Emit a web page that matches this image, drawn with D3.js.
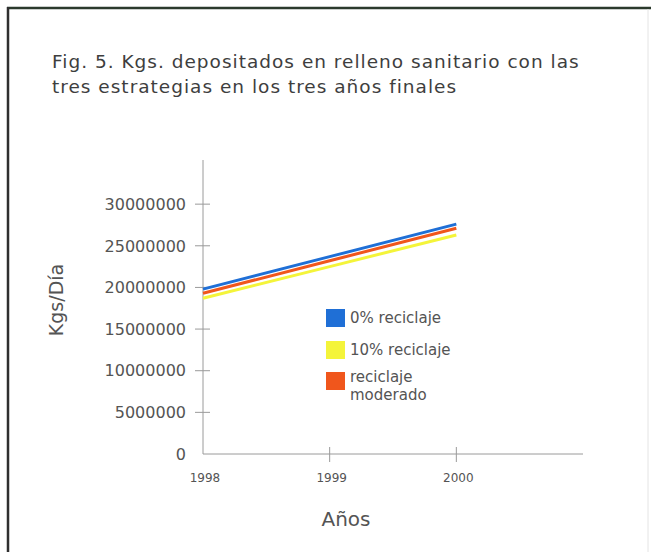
<!DOCTYPE html>
<html>
<head>
<meta charset="utf-8">
<script src="https://cdn.jsdelivr.net/npm/d3@7"></script>
<style>
  html, body { margin: 0; padding: 0; background: #fff; }
  svg { display: block; }
  text { font-family: "DejaVu Sans", "Noto Sans", sans-serif; fill: #545454; }
</style>
</head>
<body>
<svg id="chart" width="651" height="552"></svg>
<script>
// Years on the horizontal axis
const years = [1998, 1999, 2000];
const yearTicks = [1998, 1999, 2000];

// Kgs per day deposited for each strategy
const serie0 = [19800000, 23700000, 27600000];        // 0% reciclaje
const serie10 = [18700000, 22500000, 26300000];       // 10% reciclaje
const serieModerado = [19300000, 23200000, 27100000]; // reciclaje moderado

const yTicks = [0, 5000000, 10000000, 15000000, 20000000, 25000000, 30000000];

const seriesNames = ["0% reciclaje", "10% reciclaje", "reciclaje moderado"];
const seriesColors = ["#1f6fd6", "#f4f43a", "#f0561c"];

const svg = d3.select("#chart");

// Frame around the figure
svg.append("line").attr("x1", 7).attr("x2", 651).attr("y1", 8).attr("y2", 8)
  .attr("stroke", "#2b3a2c").attr("stroke-width", 2.5);
svg.append("line").attr("x1", 8).attr("x2", 8).attr("y1", 7).attr("y2", 552)
  .attr("stroke", "#2f2f2f").attr("stroke-width", 2.5);
svg.append("line").attr("x1", 648).attr("x2", 648).attr("y1", 9).attr("y2", 552)
  .attr("stroke", "#e4e4e4").attr("stroke-width", 1);

// Title
const title = svg.append("text")
  .style("font-size", "18.5px").style("letter-spacing", "1px").style("fill", "#3e3e3e");
title.append("tspan").attr("x", 52).attr("y", 68)
  .text("Fig. 5. Kgs. depositados en relleno sanitario con las");
title.append("tspan").attr("x", 52).attr("y", 93)
  .text("tres estrategias en los tres años finales");

// Scales
const x = d3.scaleLinear().domain([1998, 2001]).range([203, 583]);
const y = d3.scaleLinear().domain([0, 35300000]).range([454, 160]);

// Axis lines
svg.append("line").attr("x1", x(1998)).attr("x2", x(2001))
  .attr("y1", y(0)).attr("y2", y(0)).attr("stroke", "#9a9a9a").attr("stroke-width", 1);
svg.append("line").attr("x1", x(1998)).attr("x2", x(1998))
  .attr("y1", y(0)).attr("y2", 160).attr("stroke", "#9a9a9a").attr("stroke-width", 1);

// Y ticks and labels
const yg = svg.append("g");
yg.selectAll("line").data(yTicks.filter(d => d > 0)).join("line")
  .attr("x1", 195).attr("x2", 210)
  .attr("y1", d => y(d)).attr("y2", d => y(d))
  .attr("stroke", "#9a9a9a");
yg.selectAll("text").data(yTicks).join("text")
  .attr("x", 186).attr("y", d => y(d)).attr("dy", "0.36em")
  .attr("text-anchor", "end")
  .style("font-size", "16px")
  .text(d => d3.format("d")(d));

// X ticks and labels
const xg = svg.append("g");
xg.selectAll("line").data(yearTicks.filter(d => d > 1998)).join("line")
  .attr("x1", d => x(d)).attr("x2", d => x(d))
  .attr("y1", y(0) - 7).attr("y2", y(0) + 8)
  .attr("stroke", "#9a9a9a");
xg.selectAll("text").data(yearTicks).join("text")
  .attr("x", d => x(d) + 2).attr("y", 482)
  .attr("text-anchor", "middle")
  .style("font-size", "12px")
  .text(d => d);

// Axis titles
svg.append("text").attr("transform", "translate(63,300) rotate(-90)")
  .attr("text-anchor", "middle").style("font-size", "19px").text("Kgs/Día");
svg.append("text").attr("x", 346).attr("y", 526)
  .attr("text-anchor", "middle").style("font-size", "20px").text("Años");

// Lines (blue drawn last so it sits on top)
const line = d3.line().x((d, i) => x(years[i])).y(d => y(d));
const drawOrder = [
  { data: serie10, color: seriesColors[1] },
  { data: serieModerado, color: seriesColors[2] },
  { data: serie0, color: seriesColors[0] }
];
svg.append("g").selectAll("path").data(drawOrder).join("path")
  .attr("d", d => line(d.data))
  .attr("fill", "none")
  .attr("stroke", d => d.color)
  .attr("stroke-width", 3)
  .attr("stroke-linecap", "butt");

// Legend
const legend = [
  { label: ["0% reciclaje"], color: seriesColors[0], y: 309 },
  { label: ["10% reciclaje"], color: seriesColors[1], y: 341 },
  { label: ["reciclaje", "moderado"], color: seriesColors[2], y: 372 }
];
const lg = svg.append("g").selectAll("g").data(legend).join("g");
lg.append("rect").attr("x", 326).attr("y", d => d.y)
  .attr("width", 19).attr("height", 18).attr("fill", d => d.color);
lg.append("text")
  .attr("y", d => d.label.length > 1 ? d.y + 5 : d.y + 9)
  .style("font-size", "15px")
  .selectAll("tspan").data(d => d.label).join("tspan")
  .attr("x", 350).attr("dy", (d, i) => i === 0 ? "0.36em" : "1.2em")
  .text(d => d);
</script>
</body>
</html>
